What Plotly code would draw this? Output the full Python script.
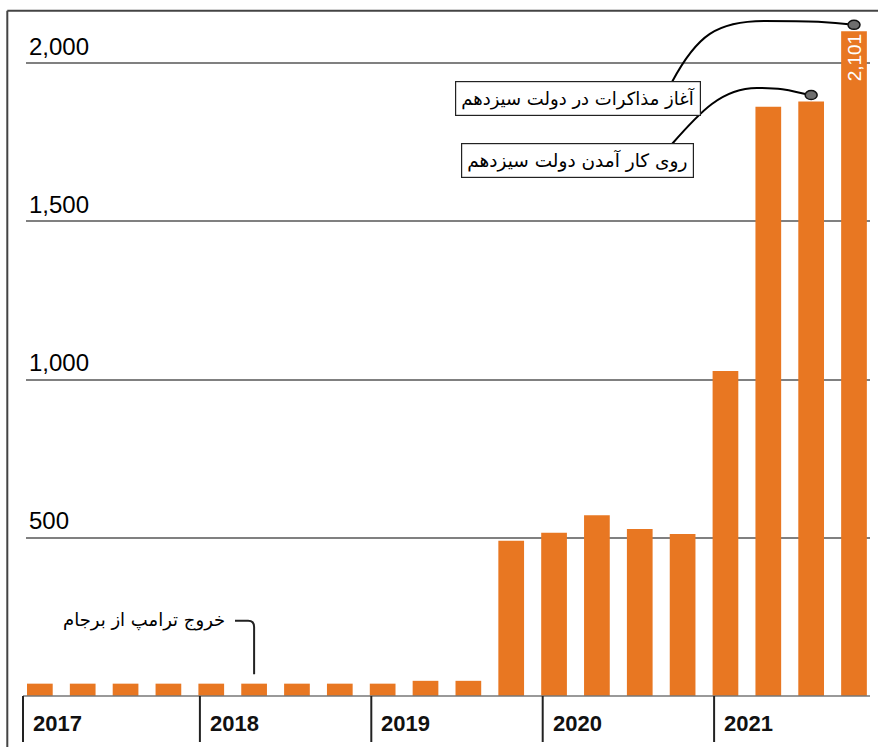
import plotly.graph_objects as go

# ---------------- data ----------------
years = ["2017", "2018", "2019", "2020", "2021"]
quarters = ["Q1", "Q2", "Q3", "Q4"]
stockpile = [39, 39, 39, 39, 39, 39, 39, 39, 39, 48, 48,
             491, 516, 571, 528, 512, 1027, 1863, 1879, 2101]
y_ticks = [500, 1000, 1500, 2000]
y_tick_text = ["500", "1,000", "1,500", "2,000"]
label_trump = "خروج ترامپ از برجام"
label_gov13 = "روی کار آمدن دولت سیزدهم"
label_talks = "آغاز مذاکرات در دولت سیزدهم"
idx_trump = 5
idx_gov13 = 18
idx_talks = 19

# ---------------- layout geometry (pixels) ----------------
W, H = 878, 747
L, R, T, B = 26, 8, 11, 51
PW = W - L - R
PH = H - T - B
PITCH = 42.85          # px per bar slot
YSCALE = 0.31635       # px per unit
BAR_W = 0.6
x0 = -0.3 - 1 / PITCH
x1 = x0 + PW / PITCH
y1 = PH / YSCALE


def px_x(v):
    return L + (v - x0) * PITCH


def px_y(v):
    return T + PH - v * YSCALE


def pap_x(px):
    return (px - L) / PW


def pap_y(py):
    return (T + PH - py) / PH


def pt(px, py):
    return f"{pap_x(px):.5f},{pap_y(py):.5f}"


ORANGE = "#E87722"
xs = list(range(len(stockpile)))
cats = [f"{y} {q}" for y in years for q in quarters]

fig = go.Figure()
fig.add_trace(go.Bar(
    x=xs, y=stockpile, width=BAR_W, customdata=cats,
    marker=dict(color=ORANGE, line=dict(width=0)),
    hovertemplate="%{customdata}: %{y}<extra></extra>",
))

shapes = []
annotations = []

# frame (top and left)
FR = "#444444"
shapes.append(dict(type="line", xref="paper", yref="paper",
                   x0=pap_x(7.3), x1=pap_x(W + 5), y0=pap_y(10.7), y1=pap_y(10.7),
                   line=dict(color=FR, width=2)))
shapes.append(dict(type="line", xref="paper", yref="paper",
                   x0=pap_x(7.3), x1=pap_x(7.3), y0=pap_y(10.7), y1=pap_y(H + 5),
                   line=dict(color=FR, width=2)))

# baseline (x axis line), starting at the first year tick
FIRST_TICK = 23
shapes.append(dict(type="line", xref="paper", yref="paper",
                   x0=pap_x(FIRST_TICK), x1=1, y0=0, y1=0,
                   line=dict(color="#777777", width=1.5)))

# year ticks and labels
for k, yr in enumerate(years):
    i = 4 * k
    tx = px_x(i - BAR_W / 2) + 1.5 if k > 0 else FIRST_TICK
    shapes.append(dict(type="line", xref="paper", yref="paper",
                       x0=pap_x(tx), x1=pap_x(tx), y0=pap_y(px_y(0)), y1=pap_y(742),
                       line=dict(color="#222222", width=2)))
    annotations.append(dict(xref="paper", yref="paper", x=pap_x(tx + 8), y=pap_y(723),
                            xanchor="left", yanchor="middle", showarrow=False,
                            text=f"<b>{yr}</b>",
                            font=dict(family="Liberation Sans, Arial", size=22, color="#111111")))

# value label on last bar
last = len(stockpile) - 1
annotations.append(dict(x=last, y=stockpile[last], xref="x", yref="y",
                        text=f"{stockpile[last]:,}", textangle=-90, showarrow=False,
                        xanchor="center", yanchor="middle", yshift=-26,
                        font=dict(family="Liberation Sans, Arial", size=19, color="white")))

# callout boxes
box_talks_c = (577.5, 98.5)
box_gov_c = (577, 161)
annotations.append(dict(xref="paper", yref="paper", x=pap_x(box_talks_c[0]), y=pap_y(box_talks_c[1]),
                        xanchor="center", yanchor="middle", showarrow=False, text=label_talks,
                        bgcolor="white", bordercolor="#222222", borderwidth=1.2, borderpad=5,
                        font=dict(family="DejaVu Sans", size=18, color="#000000")))
annotations.append(dict(xref="paper", yref="paper", x=pap_x(box_gov_c[0]), y=pap_y(box_gov_c[1]),
                        xanchor="center", yanchor="middle", showarrow=False, text=label_gov13,
                        bgcolor="white", bordercolor="#222222", borderwidth=1.2, borderpad=5,
                        font=dict(family="DejaVu Sans", size=18.5, color="#000000")))

# connector curves + dots
DOT_UP = 6.5
d1x, d1y = px_x(idx_talks), px_y(stockpile[idx_talks]) - DOT_UP
d2x, d2y = px_x(idx_gov13), px_y(stockpile[idx_gov13]) - DOT_UP
path1 = (f"M{pt(672, 82)} C{pt(697, 35)} {pt(717, 21)} {pt(765, 21)} "
         f"S{pt(d1x - 25, d1y - 3)} {pt(d1x, d1y)}")
path2 = (f"M{pt(672, 144)} C{pt(700, 112)} {pt(722, 88)} {pt(757, 88)} "
         f"S{pt(d2x - 20, d2y - 3)} {pt(d2x, d2y)}")
for p in (path1, path2):
    shapes.append(dict(type="path", xref="paper", yref="paper", path=p,
                       line=dict(color="#000000", width=2)))
for (cx, cy) in ((d1x, d1y), (d2x, d2y)):
    shapes.append(dict(type="circle", xref="paper", yref="paper",
                       x0=pap_x(cx - 6), x1=pap_x(cx + 6), y0=pap_y(cy - 4.5), y1=pap_y(cy + 4.5),
                       fillcolor="#6e6e6e", line=dict(color="#111111", width=1.5)))

# Trump exit bracket
bx = px_x(idx_trump)
by_end = px_y(stockpile[idx_trump]) - 9.5
bracket = (f"M{pt(235, 620.7)} L{pt(bx - 6, 620.7)} Q{pt(bx, 620.7)} {pt(bx, 627)} "
           f"L{pt(bx, by_end)}")
shapes.append(dict(type="path", xref="paper", yref="paper", path=bracket,
                   line=dict(color="#222222", width=2)))
annotations.append(dict(xref="paper", yref="paper", x=pap_x(227), y=pap_y(620),
                        xanchor="right", yanchor="middle", showarrow=False, text=label_trump,
                        font=dict(family="DejaVu Sans", size=18, color="#000000")))

fig.update_layout(
    width=W, height=H,
    margin=dict(l=L, r=R, t=T, b=B, pad=0),
    paper_bgcolor="white", plot_bgcolor="white",
    showlegend=False,
    shapes=shapes,
    annotations=annotations,
    xaxis=dict(range=[x0, x1], showticklabels=False, showgrid=False, zeroline=False,
               showline=False, ticks=""),
    yaxis=dict(range=[0, y1], tickvals=y_ticks, ticktext=y_tick_text,
               ticklabelposition="inside top", ticks="", showline=False, zeroline=False,
               showgrid=True, gridcolor="#808080", gridwidth=1.5,
               tickfont=dict(family="Liberation Sans, Arial", size=24, color="#000000")),
    bargap=0.4,
)

fig.write_html("out.html", config={"displayModeBar": False},
               post_script="document.body.style.margin='0';document.body.style.overflow='hidden';")
